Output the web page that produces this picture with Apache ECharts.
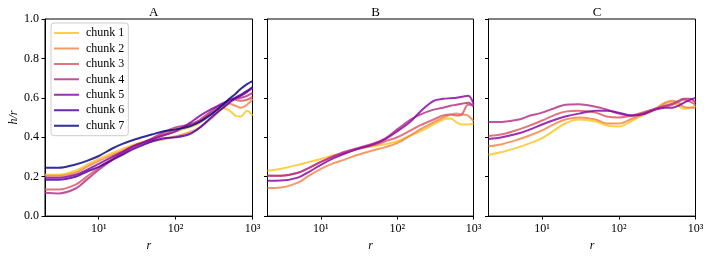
<!DOCTYPE html>
<html>
<head>
<meta charset="utf-8">
<script src="https://cdn.jsdelivr.net/npm/echarts@6/dist/echarts.min.js"></script>
<style>
html,body{margin:0;padding:0;background:#fff;}
#chart{width:710px;height:257px;}
</style>
</head>
<body>
<div id="chart"></div>
<script>
// ---- data ----
const r = [2, 3, 5, 7, 10, 15, 20, 30, 50, 70, 100, 150, 200, 300, 400, 500, 600, 700, 850, 1000];
const panelTitles = ['A', 'B', 'C'];
const chunkNames = ['chunk 1', 'chunk 2', 'chunk 3', 'chunk 4', 'chunk 5', 'chunk 6', 'chunk 7'];
const xTicks = [10, 100, 1000];
const xTickLabels = ['10\u00b9', '10\u00b2', '10\u00b3'];

const A1 = [0.21, 0.21, 0.23, 0.26, 0.29, 0.32, 0.34, 0.365, 0.39, 0.41, 0.43, 0.45, 0.47, 0.525, 0.55, 0.535, 0.51, 0.505, 0.535, 0.51];
const A2 = [0.205, 0.205, 0.22, 0.25, 0.28, 0.31, 0.33, 0.36, 0.38, 0.39, 0.405, 0.425, 0.445, 0.50, 0.545, 0.57, 0.56, 0.55, 0.565, 0.595];
const A3 = [0.135, 0.135, 0.16, 0.20, 0.245, 0.29, 0.32, 0.355, 0.39, 0.415, 0.44, 0.46, 0.48, 0.525, 0.56, 0.585, 0.59, 0.585, 0.59, 0.605];
const A4 = [0.118, 0.115, 0.14, 0.185, 0.235, 0.285, 0.315, 0.355, 0.395, 0.425, 0.45, 0.465, 0.485, 0.535, 0.565, 0.585, 0.595, 0.60, 0.61, 0.625];
const A5 = [0.195, 0.195, 0.21, 0.235, 0.265, 0.30, 0.325, 0.36, 0.39, 0.41, 0.43, 0.47, 0.505, 0.545, 0.57, 0.59, 0.60, 0.61, 0.63, 0.65];
const A6 = [0.185, 0.185, 0.20, 0.225, 0.25, 0.285, 0.31, 0.345, 0.38, 0.395, 0.40, 0.415, 0.445, 0.505, 0.545, 0.575, 0.60, 0.615, 0.635, 0.655];
const A7 = [0.245, 0.245, 0.262, 0.28, 0.305, 0.343, 0.365, 0.39, 0.415, 0.43, 0.44, 0.455, 0.475, 0.52, 0.56, 0.595, 0.62, 0.645, 0.67, 0.685];

const B1 = [0.23, 0.24, 0.26, 0.275, 0.29, 0.31, 0.32, 0.34, 0.355, 0.365, 0.38, 0.41, 0.43, 0.465, 0.49, 0.495, 0.475, 0.465, 0.465, 0.47];
const B2 = [0.142, 0.145, 0.17, 0.205, 0.24, 0.27, 0.285, 0.31, 0.335, 0.35, 0.37, 0.41, 0.44, 0.475, 0.50, 0.515, 0.52, 0.515, 0.51, 0.48];
const B3 = [0.205, 0.205, 0.22, 0.245, 0.275, 0.305, 0.32, 0.34, 0.36, 0.38, 0.40, 0.435, 0.46, 0.49, 0.51, 0.515, 0.51, 0.515, 0.565, 0.565];
const B4 = [0.205, 0.205, 0.22, 0.245, 0.275, 0.305, 0.325, 0.345, 0.37, 0.395, 0.44, 0.49, 0.515, 0.54, 0.55, 0.56, 0.565, 0.57, 0.575, 0.555];
const B5 = [0.179, 0.18, 0.195, 0.225, 0.26, 0.295, 0.315, 0.34, 0.365, 0.39, 0.43, 0.48, 0.53, 0.585, 0.595, 0.598, 0.60, 0.605, 0.61, 0.57];

const C1 = [0.311, 0.325, 0.35, 0.37, 0.395, 0.44, 0.47, 0.49, 0.48, 0.46, 0.455, 0.485, 0.51, 0.54, 0.57, 0.58, 0.56, 0.545, 0.55, 0.56];
const C2 = [0.354, 0.365, 0.39, 0.41, 0.435, 0.47, 0.49, 0.50, 0.49, 0.47, 0.47, 0.495, 0.515, 0.545, 0.575, 0.585, 0.575, 0.555, 0.55, 0.55];
const C3 = [0.407, 0.415, 0.44, 0.46, 0.485, 0.515, 0.53, 0.535, 0.525, 0.505, 0.50, 0.51, 0.525, 0.545, 0.555, 0.565, 0.58, 0.59, 0.58, 0.565];
const C4 = [0.477, 0.478, 0.49, 0.51, 0.525, 0.55, 0.565, 0.568, 0.555, 0.54, 0.52, 0.51, 0.52, 0.545, 0.56, 0.57, 0.585, 0.595, 0.595, 0.575];
const C5 = [0.391, 0.40, 0.42, 0.44, 0.465, 0.49, 0.505, 0.52, 0.535, 0.535, 0.525, 0.51, 0.515, 0.54, 0.55, 0.55, 0.56, 0.575, 0.59, 0.60];

const panelData = [[A1, A2, A3, A4, A5, A6, A7], [B1, B2, B3, B4, B5], [C1, C2, C3, C4, C5]];
// plasma colormap samples
const colors = ['#fdc527', '#f48849', '#db5c68', '#b93289', '#8b0aa5', '#5302a3', '#0d0887'];

// ---- layout ----
const FONT = 'Liberation Serif';
const grids = [
  {left: 45, top: 19, width: 207.5, height: 207},
  {left: 267.5, top: 19, width: 206, height: 207},
  {left: 488.5, top: 19, width: 207, height: 207}
];
const lineIcon = 'path://M0,0L25,0L25,0.001Z M0,5L25,5L25,7L0,7Z M0,12L25,12L25,12.001Z';

const chart = echarts.init(document.getElementById('chart'), null, {renderer: 'canvas'});

const xAxes = grids.map((g, i) => ({
  type: 'log', logBase: 10, min: 2, max: 1000, gridIndex: i,
  name: 'r', nameLocation: 'middle', nameGap: 16,
  nameTextStyle: {fontFamily: FONT, fontStyle: 'italic', fontSize: 12, color: '#000'},
  axisLine: {show: true, lineStyle: {color: '#000', width: 1}},
  axisTick: {show: true, length: 3.5, customValues: xTicks, lineStyle: {color: '#000', width: 1}},
  minorTick: {show: false},
  splitLine: {show: false},
  axisLabel: {
    customValues: xTicks, margin: 7,
    formatter: v => xTickLabels[xTicks.indexOf(Math.round(v))] || '',
    fontFamily: FONT, fontSize: 12, color: '#000'
  }
}));

const yAxes = grids.map((g, i) => ({
  type: 'value', min: 0, max: 1, interval: 0.2, gridIndex: i,
  name: i === 0 ? 'h/r' : '', nameLocation: 'middle', nameGap: 25,
  nameTextStyle: {fontFamily: FONT, fontStyle: 'italic', fontSize: 12, color: '#000'},
  axisLine: {show: true, lineStyle: {color: '#000', width: 1}},
  axisTick: {show: true, length: 3.5, lineStyle: {color: '#000', width: 1}},
  splitLine: {show: false},
  axisLabel: {
    show: i === 0, margin: 6,
    formatter: v => v.toFixed(1),
    fontFamily: FONT, fontSize: 12, color: '#000'
  }
}));

const series = [];
panelData.forEach((arrs, p) => {
  arrs.forEach((vals, k) => {
    series.push({
      name: chunkNames[k], type: 'line', xAxisIndex: p, yAxisIndex: p,
      data: r.map((x, j) => [x, vals[j]]),
      smooth: 0.35, symbol: 'none', showSymbol: false,
      lineStyle: {width: 2, color: colors[k], opacity: 0.85},
      itemStyle: {color: colors[k]},
      emphasis: {disabled: true},
      animation: false
    });
  });
});

const option = {
  animation: false,
  backgroundColor: '#fff',
  grid: grids.map(g => Object.assign({show: true, borderColor: '#000', borderWidth: 1, backgroundColor: 'transparent'}, g)),
  xAxis: xAxes,
  yAxis: yAxes,
  title: grids.map((g, i) => ({
    text: panelTitles[i], left: g.left + g.width / 2, top: 1, textAlign: 'center',
    textStyle: {fontFamily: FONT, fontSize: 13, fontWeight: 'normal', color: '#000'}
  })),
  legend: {
    data: chunkNames.map((n, k) => ({name: n, icon: lineIcon, itemStyle: {color: colors[k], opacity: 0.85}})),
    orient: 'vertical', left: 51, top: 23,
    itemWidth: 25, itemHeight: 12, itemGap: 3.45,
    padding: [4, 4, 4, 3],
    backgroundColor: 'rgba(255,255,255,0.8)', borderColor: '#cccccc', borderWidth: 1, borderRadius: 3,
    textStyle: {fontFamily: FONT, fontSize: 12, color: '#000', padding: [0, 0, 0, 2]},
    selectedMode: false
  },
  series: series
};
chart.setOption(option);
</script>
</body>
</html>
